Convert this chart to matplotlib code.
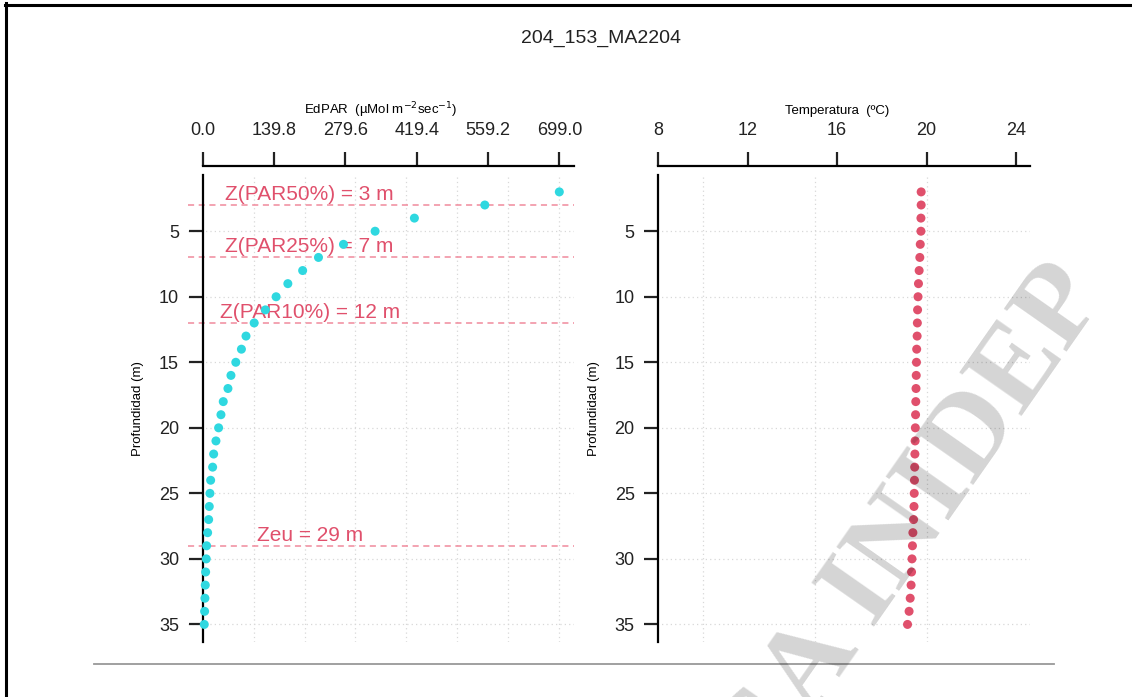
import numpy as np
import matplotlib
matplotlib.use('Agg')
import matplotlib.pyplot as plt
from matplotlib.lines import Line2D

plt.rcParams['font.family'] = ['Liberation Sans', 'DejaVu Sans']

# datos de la estacion
titulo = '204_153_MA2204'
prof = [2, 3, 4, 5, 6, 7, 8, 9, 10, 11, 12, 13, 14, 15, 16, 17, 18,
        19, 20, 21, 22, 23, 24, 25, 26, 27, 28, 29, 30, 31, 32, 33, 34, 35]
edpar = [699, 553, 415, 338, 276, 227, 196, 167, 144, 123, 101, 85, 76, 65,
         55.5, 49.6, 40.4, 35.9, 31.3, 26.1, 21.6, 19.6, 15.7, 14.3, 13.0,
         11.8, 9.8, 7.8, 7.1, 5.9, 5.2, 4.5, 3.9, 3.2]
temp = [19.76, 19.76, 19.75, 19.75, 19.72, 19.70, 19.67, 19.64, 19.62, 19.60,
        19.59, 19.58, 19.56, 19.55, 19.54, 19.53, 19.52, 19.51, 19.50, 19.49,
        19.48, 19.47, 19.46, 19.45, 19.44, 19.42, 19.39, 19.37, 19.35, 19.33,
        19.31, 19.27, 19.22, 19.15]
niveles = [3, 7, 12, 29]
etiquetas = ['Z(PAR50%) = 3 m', 'Z(PAR25%) = 7 m', 'Z(PAR10%) = 12 m', 'Zeu = 29 m']
par_ticks = [0.0, 139.8, 279.6, 419.4, 559.2, 699.0]
temp_ticks = [8, 12, 16, 20, 24]
prof_ticks = [5, 10, 15, 20, 25, 30, 35]

c_par = '#2fd8e0'
c_temp = '#e0506c'
c_linea = '#f08a9c'


def rango_r(lo, hi):
    d = (hi - lo) * 0.04
    return lo - d, hi + d


fig = plt.figure(figsize=(11.32, 6.97), dpi=100)
ax1 = fig.add_axes([0.1664, 0.0793, 0.3403, 0.6702])
ax2 = fig.add_axes([0.5689, 0.0793, 0.3412, 0.6702])

ylim = rango_r(min(prof), max(prof))


def estilo(ax, x0, xticks, xlabel, xfmt):
    ax.set_ylim(ylim[1], ylim[0])
    for s in ['right', 'bottom']:
        ax.spines[s].set_visible(False)
    ax.spines['left'].set_position(('data', x0))
    ax.spines['top'].set_position(('data', 0))
    ax.spines['top'].set_bounds(x0, ax.get_xlim()[1])
    for s in ['left', 'top']:
        ax.spines[s].set_linewidth(1.6)
    ax.xaxis.tick_top()
    ax.set_xticks(xticks)
    ax.set_xticklabels([xfmt.format(v) for v in xticks])
    ax.set_yticks(prof_ticks)
    ax.tick_params(axis='x', length=10, width=1.6, pad=9, labelsize=13, colors='#222222')
    ax.tick_params(axis='y', length=10, width=1.6, pad=7, labelsize=13, colors='#222222')
    ax.xaxis.set_label_position('top')
    ax.set_xlabel(xlabel, fontsize=9.5, labelpad=6)
    ax.set_ylabel('Profundidad (m)', fontsize=9.5)
    ax.yaxis.set_label_coords(-0.115, 0.5)


# panel EdPAR
ax1.set_xlim(rango_r(0, max(edpar)))
for v in np.linspace(0, max(edpar), 8)[1:]:
    ax1.axvline(v, color='#d8d8d8', lw=0.9, ls=(0, (1, 2.5)), zorder=0)
for v in prof_ticks:
    ax1.axhline(v, color='#d8d8d8', lw=0.9, ls=(0, (1, 2.5)), zorder=0)
for z, txt in zip(niveles, etiquetas):
    ax1.axhline(z, color=c_linea, lw=1.1, ls=(0, (4, 3)), zorder=1)
    ax1.text(0.3 * max(edpar), z - 0.38, txt, color=c_temp, fontsize=15,
             ha='center', va='baseline', zorder=2)
ax1.scatter(edpar, prof, s=42, color=c_par, edgecolors='none', zorder=3)
estilo(ax1, 0, par_ticks, 'EdPAR  (µMol m$^{-2}$sec$^{-1}$)', '{:.1f}')

# panel temperatura
ax2.set_xlim(rango_r(8, 24))
for v in [10, 15, 20]:
    ax2.axvline(v, color='#d8d8d8', lw=0.9, ls=(0, (1, 2.5)), zorder=0)
for v in prof_ticks:
    ax2.axhline(v, color='#d8d8d8', lw=0.9, ls=(0, (1, 2.5)), zorder=0)
ax2.scatter(temp, prof, s=42, color=c_temp, edgecolors='none', zorder=3)
estilo(ax2, 8, temp_ticks, 'Temperatura  (ºC)', '{:d}')

fig.text(0.5305, 0.945, titulo, fontsize=14, ha='center', va='center', color='#222222')

# marco de pagina y linea inferior
fig.add_artist(Line2D([0.004, 1.0], [0.9935, 0.9935], color='black', lw=2.2))
fig.add_artist(Line2D([0.0055, 0.0055], [0.0, 0.995], color='black', lw=2.2))
fig.add_artist(Line2D([0.083, 0.931], [0.047, 0.047], color='#999999', lw=1.3))

# marca de agua
fig.text(0.957, 0.60, 'CARGA INIDEP', fontsize=84, fontweight='bold',
         family='Liberation Serif', color='black', alpha=0.17, rotation=55,
         rotation_mode='anchor', ha='right', va='center', zorder=10)

fig.savefig('out.png', dpi=100)
